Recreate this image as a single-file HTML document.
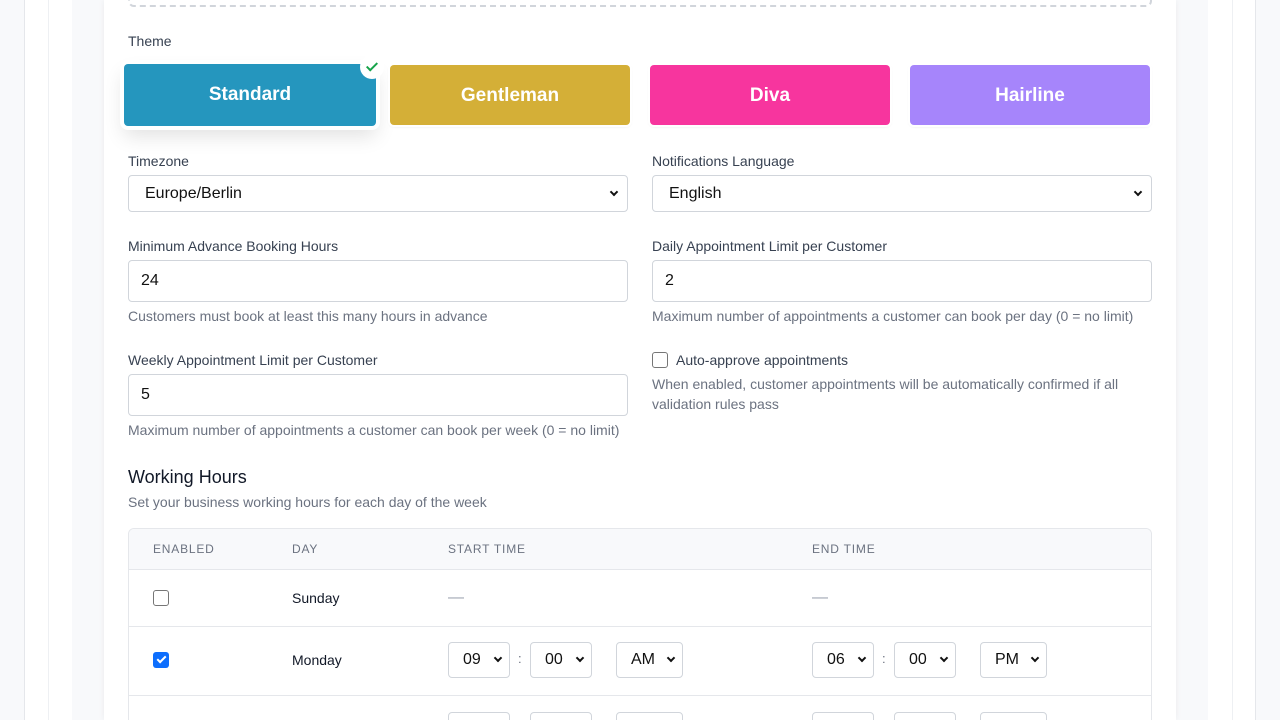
<!DOCTYPE html>
<html><head><style>
*{box-sizing:border-box;margin:0;padding:0}
html,body{width:1280px;height:720px;overflow:hidden}
body{background:#f8f9fb;font-family:"Liberation Sans",Arial,sans-serif;position:relative;color:#374151}
.a{position:absolute}
.lbl{font-size:14px;color:#374151}
.help{font-size:14px;color:#6b7280;line-height:20px}
.field{background:#fff;border:1px solid #d1d5db;border-radius:4px;font-size:16px;color:#111;padding-left:12px;display:flex;align-items:center}
.sel{background:#fff;border:1px solid #d1d5db;border-radius:4px;font-size:16px;color:#111;display:flex;align-items:center;justify-content:space-between;padding:0 10px 0 16px}
.chev{width:6px;height:6px;border-right:2px solid #111;border-bottom:2px solid #111;transform:rotate(45deg);margin-top:-4px}
.th{font-size:12px;letter-spacing:0.8px;color:#6b7280}
.td{font-size:14px;color:#111827}
.btn{border-radius:4px;color:#fff;font-weight:bold;font-size:19px;display:flex;align-items:center;justify-content:center;box-shadow:0 0 0 2px #fff,0 1px 3px rgba(0,0,0,.15)}
.ts{background:#fff;border:1px solid #d1d5db;border-radius:4px;height:36px;font-size:16px;color:#111;display:flex;align-items:center;justify-content:space-between;padding:0 8px 0 14px}
.cb{width:16px;height:16px;border:1px solid #767676;border-radius:3px;background:#fff}
</style></head><body>
<div class="a" style="left:24px;top:0;width:1px;height:720px;background:#e5e7eb"></div>
<div class="a" style="left:25px;top:0;width:47px;height:720px;background:#fff"></div>
<div class="a" style="left:48px;top:0;width:1px;height:720px;background:#eef0f3"></div>
<div class="a" style="left:1208px;top:0;width:47px;height:720px;background:#fff"></div>
<div class="a" style="left:1232px;top:0;width:1px;height:720px;background:#eef0f3"></div>
<div class="a" style="left:1255px;top:0;width:1px;height:720px;background:#e5e7eb"></div>
<div class="a" style="left:104px;top:0;width:1072px;height:720px;background:#fff;box-shadow:0 0 6px rgba(0,0,0,.06);overflow:hidden">
<div class="a" style="left:24px;top:-10px;width:1024px;height:17px;border:2px dashed #d1d5db;border-top:none;border-radius:0 0 6px 6px"></div>
<div class="a" style="left:24px;top:528px;width:1024px;height:192px;border:1px solid #e5e7eb;border-bottom:none;border-radius:6px 6px 0 0;overflow:hidden">
 <div style="height:41px;background:#f8f9fb;border-bottom:1px solid #e5e7eb;position:relative">
  <span class="a th" style="left:24px;top:13px">ENABLED</span>
  <span class="a th" style="left:163px;top:13px">DAY</span>
  <span class="a th" style="left:319px;top:13px">START TIME</span>
  <span class="a th" style="left:683px;top:13px">END TIME</span>
 </div>
 <div style="height:57px;border-bottom:1px solid #e5e7eb;position:relative">
  <div class="a cb" style="left:24px;top:20px"></div>
  <span class="a td" style="left:163px;top:20px">Sunday</span>
  <span class="a" style="left:319px;top:19px;color:#9ca3af">—</span>
  <span class="a" style="left:683px;top:19px;color:#9ca3af">—</span>
 </div>
 <div style="height:69px;border-bottom:1px solid #e5e7eb;position:relative">
  <div class="a" style="left:24px;top:25px;width:16px;height:16px;border-radius:3px;background:#0d6efd;display:flex;justify-content:center"><div style="width:5px;height:9px;border-right:2px solid #fff;border-bottom:2px solid #fff;transform:rotate(45deg);margin-top:2px"></div></div>
  <span class="a td" style="left:163px;top:25px">Monday</span>
  <div class="a ts" style="left:319px;top:15px;width:62px">09<span class="chev"></span></div>
  <span class="a" style="left:389px;top:24px;font-size:13px;color:#6b7280">:</span>
  <div class="a ts" style="left:401px;top:15px;width:62px">00<span class="chev"></span></div>
  <div class="a ts" style="left:487px;top:15px;width:67px">AM<span class="chev"></span></div>
  <div class="a ts" style="left:683px;top:15px;width:62px">06<span class="chev"></span></div>
  <span class="a" style="left:753px;top:24px;font-size:13px;color:#6b7280">:</span>
  <div class="a ts" style="left:765px;top:15px;width:62px">00<span class="chev"></span></div>
  <div class="a ts" style="left:851px;top:15px;width:67px">PM<span class="chev"></span></div>
 </div>
 <div style="height:24px;position:relative;overflow:hidden">
  <div class="a ts" style="left:319px;top:16px;width:62px"></div>
  <div class="a ts" style="left:401px;top:16px;width:62px"></div>
  <div class="a ts" style="left:487px;top:16px;width:67px"></div>
  <div class="a ts" style="left:683px;top:16px;width:62px"></div>
  <div class="a ts" style="left:765px;top:16px;width:62px"></div>
  <div class="a ts" style="left:851px;top:16px;width:67px"></div>
 </div>
</div>
</div>

<div class="a lbl" style="left:128px;top:33px">Theme</div>
<div class="a btn" style="left:124px;top:64px;width:252px;height:62px;background:#2596be;box-shadow:0 0 0 4px #fff,0 10px 20px rgba(0,0,0,.12)">Standard</div>
<div class="a" style="left:360px;top:55px;width:24px;height:24px;border-radius:50%;background:#fff;display:flex;align-items:center;justify-content:center"><div style="width:6px;height:11px;border-right:2px solid #16a34a;border-bottom:2px solid #16a34a;transform:rotate(45deg);margin-top:-3px"></div></div>
<div class="a btn" style="left:390px;top:65px;width:240px;height:60px;background:#d4af37;padding-top:2px">Gentleman</div>
<div class="a btn" style="left:650px;top:65px;width:240px;height:60px;background:#f7359e;padding-top:2px">Diva</div>
<div class="a btn" style="left:910px;top:65px;width:240px;height:60px;background:#a685fb;padding-top:2px">Hairline</div>

<div class="a lbl" style="left:128px;top:153px">Timezone</div>
<div class="a sel" style="left:128px;top:175px;width:500px;height:37px">Europe/Berlin<span class="chev"></span></div>
<div class="a lbl" style="left:652px;top:153px">Notifications Language</div>
<div class="a sel" style="left:652px;top:175px;width:500px;height:37px">English<span class="chev"></span></div>

<div class="a lbl" style="left:128px;top:238px">Minimum Advance Booking Hours</div>
<div class="a field" style="left:128px;top:260px;width:500px;height:42px">24</div>
<div class="a help" style="left:128px;top:306px">Customers must book at least this many hours in advance</div>
<div class="a lbl" style="left:652px;top:238px">Daily Appointment Limit per Customer</div>
<div class="a field" style="left:652px;top:260px;width:500px;height:42px">2</div>
<div class="a help" style="left:652px;top:306px">Maximum number of appointments a customer can book per day (0 = no limit)</div>

<div class="a lbl" style="left:128px;top:352px">Weekly Appointment Limit per Customer</div>
<div class="a field" style="left:128px;top:374px;width:500px;height:42px">5</div>
<div class="a help" style="left:128px;top:420px">Maximum number of appointments a customer can book per week (0 = no limit)</div>
<div class="a cb" style="left:652px;top:352px"></div>
<div class="a lbl" style="left:676px;top:352px">Auto-approve appointments</div>
<div class="a help" style="left:652px;top:374px;width:500px">When enabled, customer appointments will be automatically confirmed if all validation rules pass</div>

<div class="a" style="left:128px;top:467px;font-size:18px;color:#111827">Working Hours</div>
<div class="a help" style="left:128px;top:492px">Set your business working hours for each day of the week</div>
</body></html>
